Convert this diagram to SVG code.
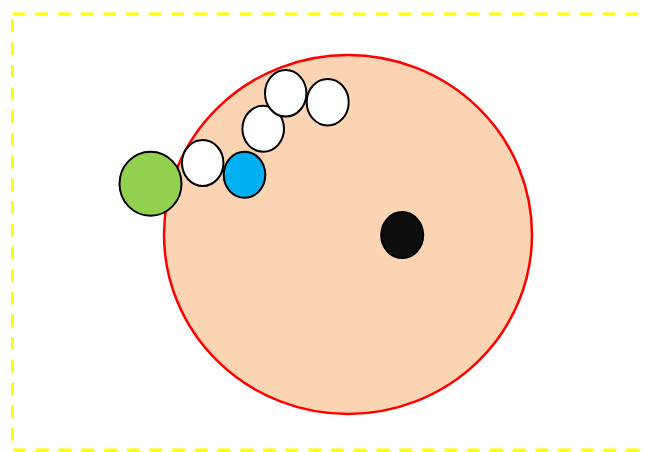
<svg xmlns="http://www.w3.org/2000/svg" width="645" height="452" viewBox="0 0 645 452">
<style>
.ball{stroke:#000;stroke-width:2}
.w{fill:#fff}
</style>
<rect width="645" height="452" fill="#fff"/>
<g id="frame"><rect x="12.5" y="14" width="640" height="436" fill="none" stroke="#ffff00" stroke-width="3" stroke-dasharray="12.7,10"/></g>
<g id="big"><ellipse cx="348" cy="234.5" rx="184" ry="179.5" fill="#fbd4b4" stroke="#ff0000" stroke-width="2.5"/></g>
<g id="green"><ellipse class="ball" cx="150.5" cy="183.7" rx="31" ry="32" fill="#92d050"/></g>
<g id="white1"><ellipse class="ball w" cx="202.7" cy="163" rx="20.7" ry="23"/></g>
<g id="blue"><ellipse class="ball" cx="244.5" cy="174.8" rx="20.8" ry="23" fill="#00b0f0"/></g>
<g id="white2"><ellipse class="ball w" cx="263.2" cy="128.8" rx="20.8" ry="23"/></g>
<g id="white3"><ellipse class="ball w" cx="285.7" cy="93.3" rx="20.7" ry="23.3"/></g>
<g id="white4"><ellipse class="ball w" cx="327.7" cy="102.2" rx="21" ry="23.2"/></g>
<g id="black"><ellipse class="ball" cx="402.2" cy="235.1" rx="21" ry="23" fill="#0d0d0d"/></g>
<g id="connectors"/>
</svg>
